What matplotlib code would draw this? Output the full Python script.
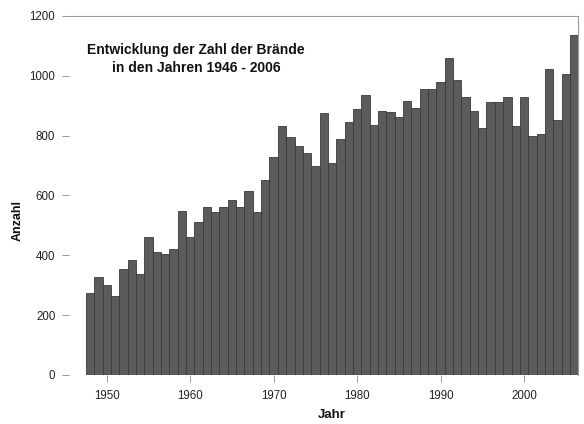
import matplotlib
matplotlib.use("Agg")
import matplotlib.pyplot as plt

years = list(range(1948, 2007))
values = [275, 328, 301, 265, 353, 384, 338, 460, 410, 405,
          422, 549, 460, 512, 563, 546, 563, 585, 563, 615,
          544, 652, 730, 831, 796, 764, 741, 697, 875, 707,
          788, 845, 888, 935, 837, 883, 879, 863, 915, 893,
          955, 957, 980, 1058, 986, 929, 883, 827, 914, 914,
          929, 831, 929, 800, 804, 1022, 853, 1007, 1135]
xticks = [1950, 1960, 1970, 1980, 1990, 2000]
yticks = [0, 200, 400, 600, 800, 1000, 1200]
title = "Entwicklung der Zahl der Brände\nin den Jahren 1946 - 2006"

plt.rcParams['font.family'] = ['Liberation Sans', 'DejaVu Sans']

fig = plt.figure(figsize=(5.84, 4.24), dpi=100)
ax = fig.add_axes([0.1185, 0.1156, 0.8717, 0.8467])
ax.bar(years, values, width=1.0, color='#5b5b5b', edgecolor='#3a3a3a', linewidth=0.6)
ax.set_xlim(1945.5, 2006.5)
ax.set_ylim(0, 1200)
ax.set_xticks(xticks)
ax.set_yticks(yticks)
ax.tick_params(axis='both', labelsize=8.3, colors='#9a9a9a', labelcolor='#222222',
               length=5, width=0.7, direction='out')
ax.tick_params(axis='x', pad=6)
ax.tick_params(axis='y', pad=5)
for s in ['left', 'bottom']:
    ax.spines[s].set_visible(False)
for s in ['top', 'right']:
    ax.spines[s].set_color('#9a9a9a')
    ax.spines[s].set_linewidth(0.8)

ax.set_xlabel('Jahr', fontsize=9.5, fontweight='bold', color='#111111')
ax.xaxis.set_label_coords((332 - 69.2) / (578.3 - 69.2), -0.095)
ax.set_ylabel('Anzahl', fontsize=9, fontweight='bold', color='#111111')
ax.yaxis.set_label_coords(-0.09, 0.43)

fig.text(196 / 584, 1 - 59 / 424, title, fontsize=10, fontweight='bold',
         color='#111111', ha='center', va='center', linespacing=1.3)

fig.savefig('out.png', dpi=100)
